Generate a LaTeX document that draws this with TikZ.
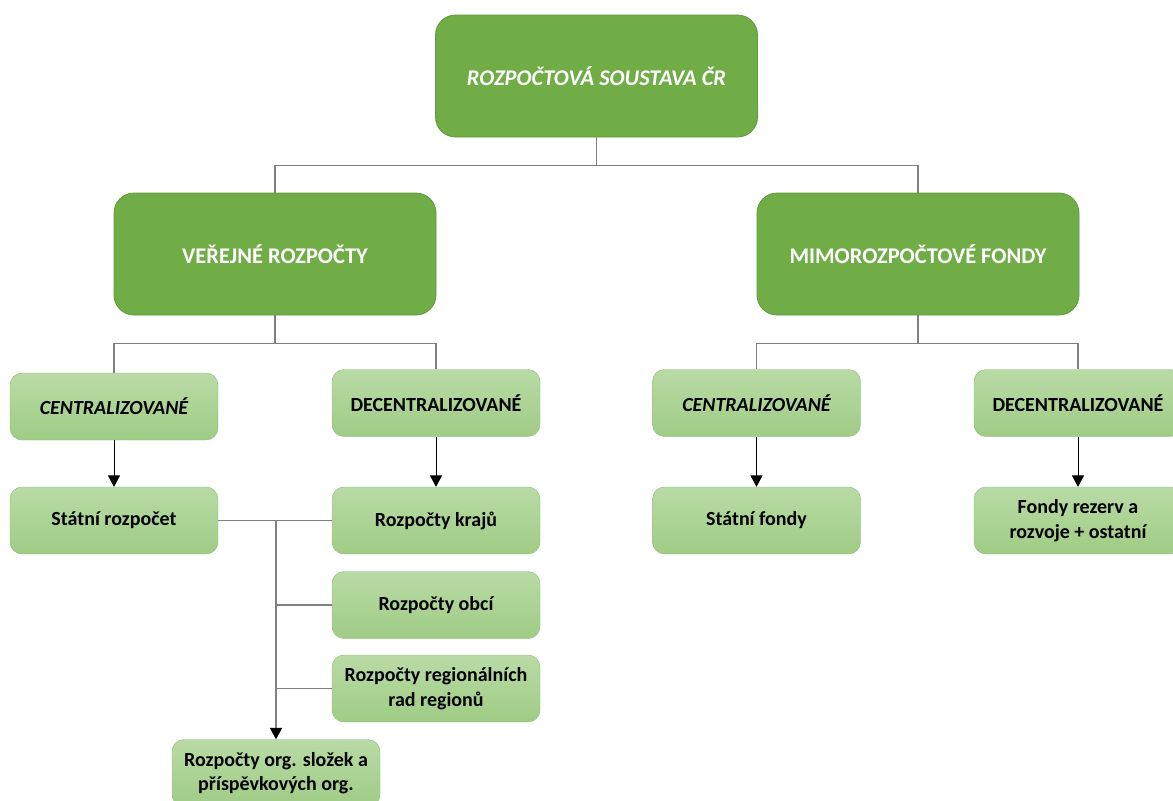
\documentclass[tikz,border=0pt]{standalone}
\usepackage{fontspec}
\setmainfont{Carlito}
\usetikzlibrary{arrows.meta}
\definecolor{darkg}{HTML}{70AD47}
\definecolor{darkgb}{HTML}{5E9A3A}
\definecolor{lightt}{HTML}{B9DBA6}
\definecolor{lightb}{HTML}{9FCC85}
\definecolor{conng}{HTML}{808080}
\tikzset{
  bigbox/.style={draw=darkgb, line width=0.6pt, fill=darkg, rounded corners=15pt,
    minimum width=241.5pt, minimum height=91.5pt, text=white, align=center,
    font=\fontsize{16.8}{20}\selectfont\bfseries},
  smallbox/.style={draw=lightb!90!black, line width=0.3pt, top color=lightt, bottom color=lightb,
    rounded corners=9pt, minimum width=156pt, minimum height=50.25pt, align=center,
    font=\fontsize{15}{18.5}\selectfont\bfseries, inner sep=2pt},
  conn/.style={draw=conng, line width=0.8pt},
  arr/.style={draw=black, line width=0.7pt, -{Triangle[width=9pt,length=8.5pt,color=black]}},
}
\begin{document}
\begin{tikzpicture}[x=0.75pt,y=-0.75pt]
\useasboundingbox (0,0) rectangle (1173,800);
\begin{scope}
\clip (0,0) rectangle (1173,800);
\node[bigbox, font=\fontsize{16.8}{20}\selectfont\bfseries\itshape] (top) at (596.5,76) {ROZPOČTOVÁ SOUSTAVA ČR};
\node[bigbox] (vr) at (275,254) {VEŘEJNÉ ROZPOČTY};
\node[bigbox] (mf) at (918,254) {MIMOROZPOČTOVÉ FONDY};

\node[smallbox, font=\fontsize{15}{18.5}\selectfont\bfseries\itshape] (cl) at (114,406.5) {CENTRALIZOVANÉ};
\node[smallbox] (dl) at (436,403) {DECENTRALIZOVANÉ};
\node[smallbox] (sr) at (114,520.5) {Státní rozpočet};
\node[smallbox] (rk) at (436,520.5) {Rozpočty krajů};
\node[smallbox] (ro) at (436,605) {Rozpočty obcí};
\node[smallbox] (rr) at (436,688.5) {Rozpočty regionálních\\rad regionů};
\node[smallbox] (org) at (276,773) {Rozpočty org. složek a\\příspěvkových org.};

\node[smallbox, font=\fontsize{15}{18.5}\selectfont\bfseries\itshape] (cr) at (756.5,403) {CENTRALIZOVANÉ};
\node[smallbox] (dr) at (1078,403) {DECENTRALIZOVANÉ};
\node[smallbox] (sf) at (756.5,520.5) {Státní fondy};
\node[smallbox] (fr) at (1078,520.5) {Fondy rezerv a\\rozvoje + ostatní};

\draw[conn] (top.south) -- ++(0,28) -| (vr.north);
\draw[conn] (top.south) -- ++(0,28) -| (mf.north);
\draw[conn] (vr.south) -- ++(0,28) -| (cl.north);
\draw[conn] (vr.south) -- ++(0,28) -| (dl.north);
\draw[conn] (mf.south) -- ++(0,28) -| (cr.north);
\draw[conn] (mf.south) -- ++(0,28) -| (dr.north);

\draw[arr] (cl.south) -- (sr.north);
\draw[arr] (dl.south) -- (rk.north);
\draw[arr] (cr.south) -- (sf.north);
\draw[arr] (dr.south) -- (fr.north);

\coordinate (j) at (276,520.5);
\draw[conn] (sr.east) -- (rk.west);
\draw[conn] (ro.west) -- (ro.west -| j);
\draw[conn] (rr.west) -- (rr.west -| j);
\draw[conn, -{Triangle[width=9pt,length=8.5pt,color=black]}] (j) -- (org.north);
\end{scope}
\end{tikzpicture}
\end{document}
